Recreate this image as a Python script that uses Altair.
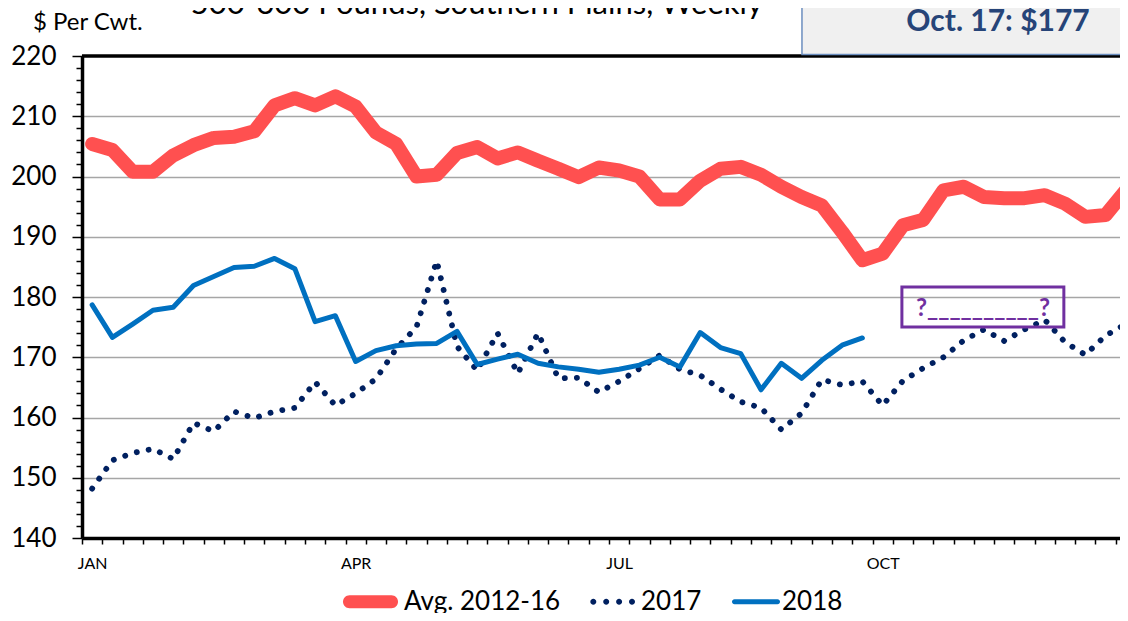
import altair as alt
import pandas as pd

# ---------------- data ----------------
weeks = list(range(52))
avg_2012_16 = [205.4, 204.4, 200.8, 200.8, 203.5, 205.2, 206.4, 206.6, 207.5, 211.8,
               213.0, 211.8, 213.3, 211.6, 207.3, 205.4, 200.0, 200.3, 203.9, 204.9,
               203.0, 204.0, 202.6, 201.3, 199.9, 201.5, 201.0, 200.0, 196.2, 196.2,
               199.3, 201.3, 201.6, 200.3, 198.3, 196.6, 195.2, 190.8, 186.1, 187.2,
               191.9, 192.8, 197.7, 198.3, 196.6, 196.4, 196.4, 196.9, 195.5, 193.3,
               193.6, 197.7]
y2017 = [148.2, 152.9, 154.1, 154.8, 153.1, 159.1, 157.7, 161.0, 159.9, 161.0,
         161.6, 165.9, 162.0, 164.0, 166.4, 171.4, 175.0, 186.0, 171.8, 167.8,
         174.0, 167.3, 174.0, 166.5, 166.6, 164.2, 166.0, 168.1, 170.3, 168.0,
         167.0, 164.7, 162.6, 161.6, 158.0, 160.7, 166.3, 165.4, 166.0, 162.0,
         166.1, 168.2, 170.0, 172.8, 174.6, 172.7, 174.6, 176.2, 172.5, 170.4,
         173.6, 175.5]
y2018 = [178.7, 173.3, 175.5, 177.8, 178.3, 181.9, 183.4, 184.9, 185.1, 186.4,
         184.7, 175.9, 176.9, 169.3, 171.1, 171.9, 172.2, 172.3, 174.3, 168.8,
         169.7, 170.5, 169.0, 168.4, 168.0, 167.5, 168.0, 168.7, 170.0, 168.4,
         174.1, 171.6, 170.6, 164.6, 169.0, 166.5, 169.5, 172.0, 173.2]

series_names = ["Avg. 2012-16", "2017", "2018"]
series_colors = ["#FF5050", "#002060", "#0070C0"]

title_text = "500-600 Pounds, Southern Plains, Weekly"
unit_text = "$ Per Cwt."
box_text = "Oct. 17: $177"
question_text = "?" + "_" * 10 + "?"

# legend symbol shapes (unit square -1..1)
def circle(cx, r):
    return (f"M{cx - r:.3f},0A{r},{r},0,1,0,{cx + r:.3f},0"
            f"A{r},{r},0,1,0,{cx - r:.3f},0Z")

red_sym = ("M-0.764,-0.236L0.764,-0.236A0.236,0.236,0,0,1,0.764,0.236"
           "L-0.764,0.236A0.236,0.236,0,0,1,-0.764,-0.236Z")
dot_sym = "".join(circle(c, 0.109) for c in [-0.516, -0.047, 0.422, 0.891])
blue_sym = ("M-0.509,-0.091L1.055,-0.091A0.091,0.091,0,0,1,1.055,0.091"
            "L-0.509,0.091A0.091,0.091,0,0,1,-0.509,-0.091Z")
legend_shapes = [red_sym, dot_sym, blue_sym]

df_avg = pd.DataFrame({"week": weeks, "value": avg_2012_16})
df_17 = pd.DataFrame({"week": weeks, "value": y2017})
df_18 = pd.DataFrame({"week": weeks[:len(y2018)], "value": y2018})
df_all = pd.concat([
    df_avg.assign(series=series_names[0]),
    df_17.assign(series=series_names[1]),
    df_18.assign(series=series_names[2]),
])

FONT = "Lato"

x_enc = alt.X(
    "week:Q",
    scale=alt.Scale(domain=[-0.5, 50.71], nice=False, zero=False),
    axis=alt.Axis(
        values=[w - 0.5 for w in weeks], tickCount=500,
        labelExpr="datum.value == -0.5 ? 'JAN' : datum.value == 12.5 ? 'APR' : "
                  "datum.value == 25.5 ? 'JUL' : datum.value == 38.5 ? 'OCT' : ''",
        title=None, grid=False,
        domainColor="black", domainWidth=3.5,
        tickColor="black", tickWidth=1.5, tickSize=6,
        labelFont=FONT, labelFontSize=16, labelColor="black",
        labelOffset=10.13, labelPadding=11, labelOverlap=False, labelFlush=False,
        labelAlign="center",
    ),
)
y_enc = alt.Y(
    "value:Q",
    scale=alt.Scale(domain=[140, 220], nice=False, zero=False),
    axis=alt.Axis(
        values=list(range(140, 221, 2)), tickCount=500, format="d",
        labelExpr="datum.value % 10 === 0 ? datum.label : ''",
        title=None,
        grid=True, gridColor="#A6A6A6", gridWidth=1.5,
        gridOpacity={"condition": {"test": "datum.value % 10 === 0 && datum.value > 140 && datum.value < 220", "value": 1}, "value": 0},
        tickSize={"condition": {"test": "datum.value % 10 === 0", "value": 10}, "value": 6},
        domainColor="black", domainWidth=3.5,
        tickColor="black", tickWidth=1.5,
        labelFont=FONT, labelFontSize=26, labelColor="black",
        labelPadding=16, labelOverlap=False, labelFlush=False,
    ),
)

base_avg = alt.Chart(df_avg).mark_line(
    color=series_colors[0], strokeWidth=14, strokeCap="round", strokeJoin="round", clip=True
).encode(x=x_enc, y=y_enc)

base_17 = alt.Chart(df_17).mark_line(
    color=series_colors[1], strokeWidth=5.8, strokeDash=[0.1, 12], strokeCap="round",
    strokeJoin="round", clip=True
).encode(x="week:Q", y="value:Q")

base_18 = alt.Chart(df_18).mark_line(
    color=series_colors[2], strokeWidth=5, strokeCap="round", strokeJoin="round", clip=True
).encode(x="week:Q", y="value:Q")

top_border = alt.Chart(pd.DataFrame({"v": [220]})).mark_rule(
    color="black", strokeWidth=3.5
).encode(y="v:Q")

legend = alt.Legend(
    orient="none", legendX=261, legendY=518, direction="horizontal", title=None,
    symbolSize=3025, symbolStrokeWidth=0, symbolOpacity=1,
    labelFont=FONT, labelFontSize=26, labelColor="black", labelOffset=6,
    columnPadding=19, padding=0, labelLimit=400,
)

legend_layer = alt.Chart(df_all).transform_filter("false").mark_point(
    filled=True, opacity=1
).encode(
    x="week:Q", y="value:Q",
    color=alt.Color("series:N", scale=alt.Scale(domain=series_names, range=series_colors),
                    legend=legend, sort=series_names),
    shape=alt.Shape("series:N", scale=alt.Scale(domain=series_names, range=legend_shapes),
                    legend=legend, sort=series_names),
)

# annotations (data coordinates)
ann_box = pd.DataFrame({"x": [35.02], "x2": [53.0], "y": [220.25], "y2": [231.0]})
box_rect = alt.Chart(ann_box).mark_rect(
    fill="#F0F0F0", stroke="#6C8EBF", strokeWidth=1.5, clip=False
).encode(x="x:Q", x2="x2:Q", y="y:Q", y2="y2:Q")

box_label = alt.Chart(pd.DataFrame({"x": [44.69], "y": [224.15], "t": [box_text]})).mark_text(
    font=FONT, fontSize=30, fontWeight="bold", color="#264478", align="center",
    baseline="alphabetic", clip=False
).encode(x="x:Q", y="y:Q", text="t:N")

title_label = alt.Chart(pd.DataFrame({"x": [18.98], "y": [226.97], "t": [title_text]})).mark_text(
    font=FONT, fontSize=31, color="black", align="center", baseline="alphabetic", clip=False
).encode(x="x:Q", y="y:Q", text="t:N")

unit_label = alt.Chart(pd.DataFrame({"x": [-2.92], "y": [224.3], "t": [unit_text]})).mark_text(
    font=FONT, fontSize=24, color="black", align="left", baseline="alphabetic", clip=False
).encode(x="x:Q", y="y:Q", text="t:N")

q_box = pd.DataFrame({"x": [39.95], "x2": [47.94], "y": [175.02], "y2": [181.66]})
q_rect = alt.Chart(q_box).mark_rect(
    fill="white", fillOpacity=0, stroke="#7030A0", strokeWidth=3
).encode(x="x:Q", x2="x2:Q", y="y:Q", y2="y2:Q")

q_label = alt.Chart(pd.DataFrame({"x": [43.95], "y": [176.85], "t": [question_text]})).mark_text(
    font=FONT, fontSize=24, fontWeight="bold", color="#7030A0", align="center",
    baseline="alphabetic"
).encode(x="x:Q", y="y:Q", text="t:N")

chart = alt.layer(
    base_avg, base_17, base_18, top_border, q_rect, q_label,
    box_rect, box_label, title_label, unit_label, legend_layer
).properties(
    width=1038, height=482,
    padding={"left": 74, "top": 48, "right": 0, "bottom": 75},
    autosize=alt.AutoSizeParams(type="none"),
    background="white",
).configure_view(stroke=None)

chart.save("out.html", embed_options={"renderer": "svg", "actions": False})
